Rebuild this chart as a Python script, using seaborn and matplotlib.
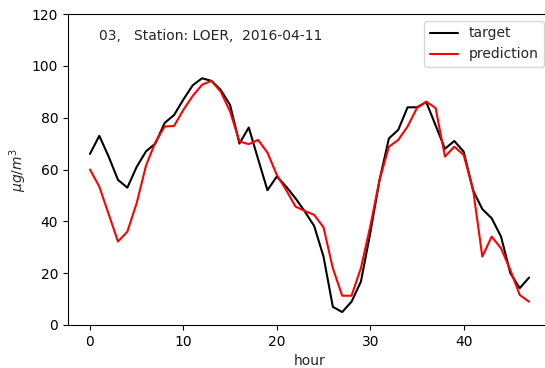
import numpy as np
import pandas as pd
import matplotlib
matplotlib.use("Agg")
import matplotlib.pyplot as plt
import seaborn as sns

hours = list(range(48))
target = [66, 73, 65, 56, 53, 61, 67, 70, 78, 81, 87, 92.5, 95.2, 94.2, 90.7, 84.9,
          70, 76.2, 64, 52, 57.3, 53.4, 48.9, 43.8, 38.2, 26.4, 7, 5, 9, 16.7,
          35.4, 56, 72, 75.3, 84, 84, 86, 77, 68, 71, 66.9, 52, 44.7, 41.2, 34.1,
          20, 14.2, 18.3]
prediction = [60, 53.4, 42.8, 32.2, 36, 47, 61.5, 70.5, 76.6, 76.8, 83, 88.4, 92.7,
              94.2, 90, 82.4, 70.8, 69.8, 71.4, 66.5, 57.9, 52.1, 45.7, 44, 42.5,
              37.7, 21.9, 11.3, 11.3, 21.9, 38, 56, 68.8, 71.4, 76.6, 83.7, 86.2,
              83.7, 65, 68.8, 65.6, 52.5, 26.4, 34.1, 29.6, 21.2, 11.6, 9]
title_text = "03,   Station: LOER,  2016-04-11"

df = pd.DataFrame({
    "hour": hours * 2,
    "value": target + prediction,
    "series": ["target"] * len(hours) + ["prediction"] * len(hours),
})

sns.set_style("white")
plt.rcParams["font.family"] = ["DejaVu Sans"]
plt.rcParams["font.size"] = 10

fig = plt.figure(figsize=(5.45, 3.68), dpi=100)
ax = fig.add_axes([68 / 545, 1 - 325 / 368, 483 / 545, 311 / 368])
sns.lineplot(data=df, x="hour", y="value", hue="series",
             palette={"target": "black", "prediction": "red"},
             linewidth=1.5, ax=ax)
ax.set_xlim(-2.35, 49.35)
ax.set_ylim(0, 120)
ax.set_xticks([0, 10, 20, 30, 40])
ax.set_yticks([0, 20, 40, 60, 80, 100, 120])
ax.tick_params(axis="both", which="both", direction="out", length=3.5, width=0.8,
               bottom=True, left=True, labelsize=10, colors="black")
for s in ax.spines.values():
    s.set_color("black")
    s.set_linewidth(0.8)
ax.spines["right"].set_visible(False)
ax.set_xlabel("hour", fontsize=10)
ax.set_ylabel(r"$\mu g/m^3$", fontsize=10, labelpad=2)
ax.text(1, 110, title_text, fontsize=10)
leg = ax.legend(loc="upper right", fontsize=10, frameon=True, title=None)
leg.get_frame().set_edgecolor("#cccccc")
fig.savefig("out.png", dpi=100)
